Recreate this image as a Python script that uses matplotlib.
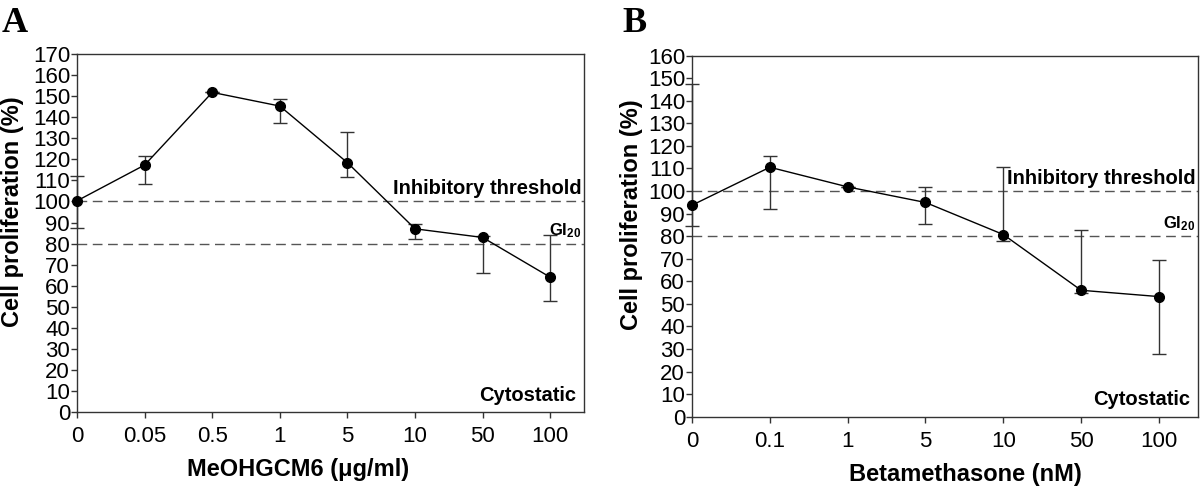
import numpy as np
import matplotlib
matplotlib.use("Agg")
import matplotlib.pyplot as plt

plt.rcParams.update({
    "font.family": ["Liberation Sans", "DejaVu Sans"],
    "mathtext.fontset": "custom",
    "mathtext.rm": "Liberation Sans",
    "mathtext.bf": "Liberation Sans:bold",
    "axes.linewidth": 1.0,
    "axes.edgecolor": "#333333",
    "xtick.color": "#333333",
    "ytick.color": "#333333",
    "xtick.labelcolor": "black",
    "ytick.labelcolor": "black",
})

# ---- panel A: MeOHGCM6 ------------------------------------------------------
a_doses = ["0", "0.05", "0.5", "1", "5", "10", "50", "100"]
a_mean = [100.3, 117.3, 151.8, 145.3, 118.4, 87.0, 82.9, 64.0]
a_low = [87.5, 108.1, 151.8, 137.1, 111.7, 82.1, 65.9, 52.9]
a_high = [112.0, 121.6, 151.8, 148.5, 132.8, 89.3, 83.5, 84.2]

# ---- panel B: Betamethasone -------------------------------------------------
b_doses = ["0", "0.1", "1", "5", "10", "50", "100"]
b_mean = [93.7, 110.5, 101.8, 94.9, 80.7, 56.0, 53.2]
b_low = [84.5, 92.1, 101.8, 85.4, 77.9, 54.7, 27.9]
b_high = [147.2, 115.7, 101.8, 101.7, 110.5, 82.8, 69.2]

THRESH = 100
GI20 = 80

fig = plt.figure(figsize=(12, 4.87), dpi=100)
axA = fig.add_axes([0.0642, 0.154, 0.4225, 0.735])
axB = fig.add_axes([0.5767, 0.1444, 0.4215, 0.7416])


def panel(ax, doses, mean, low, high, ymax, xlabel, xlab_x, ylab_x):
    x = np.arange(len(doses))
    mean = np.asarray(mean)
    yerr = [mean - np.asarray(low), np.asarray(high) - mean]
    ax.errorbar(x, mean, yerr=yerr, fmt="none", ecolor="#333333", elinewidth=1.0,
                capsize=5, capthick=1.0, clip_on=False, zorder=2)
    ax.plot(x, mean, color="black", lw=1.0, marker="o", ms=7, mfc="black",
            mec="black", clip_on=False, zorder=3)
    ax.axhline(THRESH, color="#555555", lw=1.0, ls=(0, (7, 4)), zorder=1)
    ax.axhline(GI20, color="#555555", lw=1.0, ls=(0, (7, 4)), zorder=1)
    ax.set_xlim(0, len(doses) - 0.5)
    ax.set_ylim(0, ymax)
    ax.set_xticks(x)
    ax.set_xticklabels(doses)
    ax.set_yticks(np.arange(0, ymax + 1, 10))
    ax.tick_params(direction="out", length=4, width=1.0, labelsize=16)
    ax.tick_params(axis="x", pad=6)
    ax.tick_params(axis="y", pad=1)
    ax.set_xlabel(xlabel, fontsize=17, fontweight="bold")
    ax.xaxis.label.set_va("center")
    ax.xaxis.set_label_coords(xlab_x, -0.16)
    ax.set_ylabel("Cell proliferation (%)", fontsize=17, fontweight="bold")
    ax.yaxis.label.set_va("center")
    ax.yaxis.set_label_coords(ylab_x, 0.56)
    tr = ax.get_yaxis_transform()
    ax.text(0.995, THRESH + 1.5, "Inhibitory threshold", transform=tr, ha="right",
            va="bottom", fontsize=14.5, fontweight="bold")
    ax.text(0.995, GI20 + 1.5, r"$\mathbf{GI_{20}}$", transform=tr, ha="right",
            va="bottom", fontsize=12)
    ax.text(0.985, 0.02, "Cytostatic", transform=ax.transAxes, ha="right",
            va="bottom", fontsize=14.5, fontweight="bold")


panel(axA, a_doses, a_mean, a_low, a_high, 170, "MeOHGCM6 (\u03bcg/ml)", 0.436, -0.127)
panel(axB, b_doses, b_mean, b_low, b_high, 160, "Betamethasone (nM)", 0.541, -0.119)

fig.text(0.001, 0.985, "A", family="Liberation Serif", fontweight="bold",
         fontsize=26, ha="left", va="top")
fig.text(0.519, 0.985, "B", family="Liberation Serif", fontweight="bold",
         fontsize=26, ha="left", va="top")

fig.savefig("out.png", dpi=100)
